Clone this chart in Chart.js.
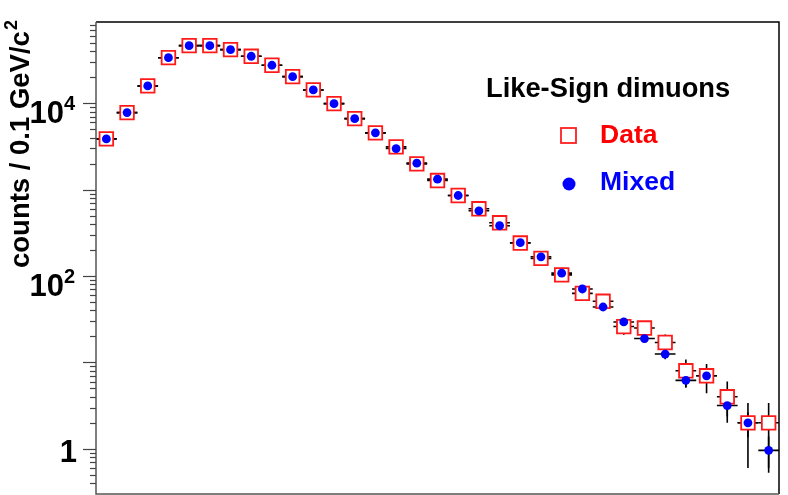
<!DOCTYPE html>
<html>
<head>
<meta charset="utf-8">
<script src="https://cdn.jsdelivr.net/npm/chart.js@4.4.0/dist/chart.umd.min.js"></script>
<style>
  body { margin: 0; background: #fff; }
</style>
</head>
<body>
<canvas id="dimuons" width="788" height="495"></canvas>
<script>
// dimuon mass bins, 0.1 GeV/c2 wide (bin centres)
const massBins = [0.05, 0.15, 0.25, 0.35, 0.45, 0.55, 0.65, 0.75, 0.85, 0.95,
  1.05, 1.15, 1.25, 1.35, 1.45, 1.55, 1.65, 1.75, 1.85, 1.95,
  2.05, 2.15, 2.25, 2.35, 2.45, 2.55, 2.65, 2.75, 2.85, 2.95,
  3.05, 3.15, 3.25];
const binHalf = 0.05;

const dataCounts = [3865, 7790, 15850, 33650, 46350, 46350, 41700, 34950, 27500, 20300,
  14250, 9890, 6630, 4540, 3125, 1986, 1274, 855, 600, 413,
  241, 160, 103, 63, 51, 26, 25, 17, 8, 7,
  4, 2, 2];
const dataErr = [62, 88, 126, 183, 215, 215, 204, 187, 166, 142,
  119, 99, 81, 67, 56, 45, 36, 29, 24.5, 20.3,
  15.5, 12.6, 10.1, 7.9, 7.1, 5.1, 5, 4.1, 2.8, 2.6,
  2, 1.4, 1.4];

const mixedCounts = [3865, 7790, 15850, 33650, 46350, 46350, 41700, 34950, 27500, 20300,
  14250, 9890, 6630, 4540, 2987, 2024, 1322, 855, 569, 382,
  243, 167, 108, 70.8, 43.8, 29.4, 18.9, 12.5, 6.2, 7.0,
  3.17, 2.0, 0.96];
const mixedErr = [28, 40, 57, 83, 97, 97, 92, 84, 75, 64,
  54, 45, 37, 30, 25, 20, 16, 13, 11, 8.8,
  7, 5.8, 4.7, 3.8, 3.0, 2.4, 2.0, 1.6, 1.1, 1.2,
  0.8, 0.64, 0.43];

const yMin = 0.304, yMax = 87100;
const yTickValues = [1, 100, 10000];
const yTickLabels = [["1", ""], ["10", "2"], ["10", "4"]];

const FONT = "'Liberation Sans', Arial, Helvetica, sans-serif";

function points(vals) {
  return massBins.map((m, i) => ({ x: m, y: vals[i] }));
}

// error bars (bin width horizontally, stat error vertically)
const errorBars = {
  id: 'errorBars',
  beforeDatasetsDraw(chart) {
    const ctx = chart.ctx, xs = chart.scales.x, ys = chart.scales.y, area = chart.chartArea;
    const sets = [[dataCounts, dataErr], [mixedCounts, mixedErr]];
    ctx.save();
    ctx.beginPath();
    ctx.rect(area.left, area.top, area.right - area.left, area.bottom - area.top);
    ctx.clip();
    ctx.strokeStyle = '#000';
    ctx.lineWidth = 1.6;
    sets.forEach(([vals, errs]) => {
      vals.forEach((v, i) => {
        const m = massBins[i];
        const y = ys.getPixelForValue(v);
        const x = xs.getPixelForValue(m);
        ctx.beginPath();
        ctx.moveTo(xs.getPixelForValue(m - binHalf), y);
        ctx.lineTo(xs.getPixelForValue(m + binHalf), y);
        const lo = Math.max(v - errs[i], yMin / 10);
        ctx.moveTo(x, ys.getPixelForValue(lo));
        ctx.lineTo(x, ys.getPixelForValue(v + errs[i]));
        ctx.stroke();
      });
    });
    ctx.restore();
  }
};

// frame, log ticks, labels, title and legend in ROOT style
const rootFrame = {
  id: 'rootFrame',
  afterDraw(chart) {
    const ctx = chart.ctx, ys = chart.scales.y, a = chart.chartArea;
    ctx.save();
    // frame
    ctx.lineWidth = 1.5;
    ctx.strokeStyle = '#000';
    ctx.beginPath();
    ctx.moveTo(a.left, a.top); ctx.lineTo(a.right, a.top); ctx.lineTo(a.right, a.bottom);
    ctx.stroke();
    ctx.strokeStyle = '#555';
    ctx.beginPath();
    ctx.moveTo(a.right, a.bottom); ctx.lineTo(a.left, a.bottom); ctx.lineTo(a.left, a.top);
    ctx.stroke();

    // y ticks
    ctx.strokeStyle = '#444';
    ctx.lineWidth = 1.2;
    for (let d = -1; d <= 4; d++) {
      for (let k = 1; k <= 9; k++) {
        const v = k * Math.pow(10, d);
        if (v < yMin || v > yMax) continue;
        const y = Math.round(ys.getPixelForValue(v)) + 0.5;
        const len = k === 1 ? 13 : 6;
        ctx.beginPath();
        ctx.moveTo(a.left - len, y);
        ctx.lineTo(a.left, y);
        ctx.stroke();
      }
    }

    // y tick labels
    ctx.fillStyle = '#000';
    ctx.textBaseline = 'alphabetic';
    yTickValues.forEach((v, i) => {
      const y = ys.getPixelForValue(v);
      const [base, sup] = yTickLabels[i];
      if (sup) {
        ctx.font = 'bold 20px ' + FONT;
        const sw = ctx.measureText(sup).width;
        ctx.textAlign = 'right';
        ctx.fillText(sup, 75, y + 7);
        ctx.font = 'bold 31px ' + FONT;
        ctx.fillText(base, 75 - sw, y + 20);
      } else {
        ctx.font = 'bold 31px ' + FONT;
        ctx.textAlign = 'right';
        ctx.fillText(base, 77, y + 13.5);
      }
    });

    // y title
    ctx.save();
    ctx.translate(29, 268);
    ctx.rotate(-Math.PI / 2);
    ctx.textAlign = 'left';
    ctx.font = 'bold 27.5px ' + FONT;
    const t = 'counts / 0.1 GeV/c';
    ctx.fillText(t, 0, 0);
    const tw = ctx.measureText(t).width;
    ctx.font = 'bold 18px ' + FONT;
    ctx.fillText('2', tw + 1, -12);
    ctx.restore();

    // legend
    ctx.textAlign = 'left';
    ctx.font = 'bold 27.3px ' + FONT;
    ctx.fillStyle = '#000';
    ctx.fillText('Like-Sign dimuons', 486, 97);
    ctx.font = 'bold 26.5px ' + FONT;
    ctx.fillStyle = '#ff0000';
    ctx.fillText('Data', 600, 143);
    ctx.fillStyle = '#0000ff';
    ctx.fillText('Mixed', 600, 189.5);
    ctx.strokeStyle = '#ff2020';
    ctx.lineWidth = 1.8;
    ctx.strokeRect(561, 128, 15, 15);
    ctx.beginPath();
    ctx.arc(569, 184, 6.5, 0, Math.PI * 2);
    ctx.fill();
    ctx.restore();
  }
};

new Chart(document.getElementById('dimuons'), {
  type: 'scatter',
  data: {
    datasets: [{
        label: 'Mixed',
        data: points(mixedCounts),
        pointStyle: 'circle',
        pointRadius: 4.4,
        pointBackgroundColor: '#0000ff',
        pointBorderWidth: 0,
        borderColor: '#0000ff'
      },
      {
        label: 'Data',
        data: points(dataCounts),
        pointStyle: 'rect',
        pointRadius: 9.6,
        pointBackgroundColor: '#ffffff',
        pointBorderColor: '#ff1a1a',
        pointBorderWidth: 1.8
      }
    ]
  },
  options: {
    responsive: false,
    animation: false,
    layout: { autoPadding: false, padding: { left: 96, top: 22, right: 9, bottom: 1 } },
    plugins: {
      legend: { display: false },
      tooltip: { enabled: false }
    },
    scales: {
      x: { type: 'linear', min: 0, max: 3.3, display: false },
      y: { type: 'logarithmic', min: yMin, max: yMax, display: false }
    }
  },
  plugins: [errorBars, rootFrame]
});
</script>
</body>
</html>
